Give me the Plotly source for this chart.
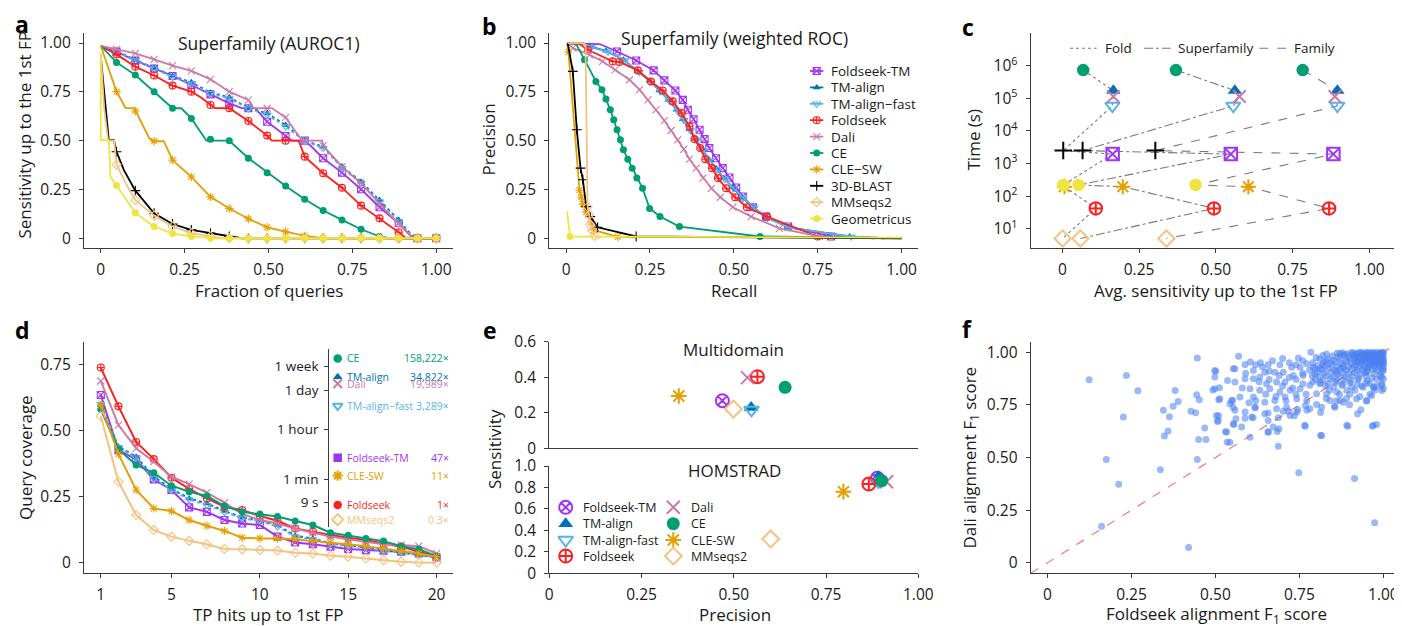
import math
import plotly.graph_objects as go

# The page body adds an 8 px margin: the figure is sized to fill the rest of the 1402x626 window,
# and every layout constant below is written in window pixels.
PAGE_OFF = 8
WIN_W, WIN_H = 1402, 626
W, H = WIN_W - PAGE_OFF, WIN_H - PAGE_OFF
FONT = "Open Sans, Arial, sans-serif"
TXT = "#1a1a1a"
AXC = "#3a3a3a"

# ---------------- methods & styles ----------------
methods = ["Foldseek-TM", "TM-align", "TM-align-fast", "Foldseek", "Dali", "CE",
           "CLE-SW", "3D-BLAST", "MMseqs2", "Geometricus"]
COL = {"Foldseek-TM": "#9f35f2", "TM-align": "#0072B2", "TM-align-fast": "#56B4E9",
       "Foldseek": "#ff1f1f", "Dali": "#CC79A7", "CE": "#009E73", "CLE-SW": "#E69F00",
       "3D-BLAST": "#000000", "MMseqs2": "#F5C27F", "Geometricus": "#F0E442"}
SYM = {"Foldseek-TM": "square-x-open", "TM-align": "triangle-up", "TM-align-fast": "triangle-down-open",
       "Foldseek": "circle-cross-open", "Dali": "x-thin-open", "CE": "circle", "CLE-SW": "asterisk-open",
       "3D-BLAST": "cross-thin-open", "MMseqs2": "diamond-open", "Geometricus": "circle"}
B_LABEL = {"TM-align-fast": "TM-align−fast", "CLE-SW": "CLE−SW"}
D_LABEL = {"TM-align-fast": "TM-align−fast"}

# ---------------- panel a: sensitivity up to 1st FP (AUROC1) ----------------
a_mark_x = [0.047, 0.103, 0.159, 0.214, 0.27, 0.327, 0.383, 0.44, 0.496, 0.551, 0.608,
            0.663, 0.719, 0.776, 0.831, 0.888, 0.944, 1.0]
a_mark_fstm = [0.956, 0.91, 0.87, 0.831, 0.785, 0.737, 0.691, 0.666, 0.597, 0.524, 0.5, 0.41, 0.336, 0.251, 0.159, 0.077, 0, 0]
a_mark_tmalign = [0.961, 0.913, 0.874, 0.831, 0.799, 0.746, 0.722, 0.666, 0.64, 0.58, 0.5, 0.469, 0.367, 0.29, 0.196, 0.094, 0, 0]
a_mark_tmfast = [0.958, 0.910, 0.870, 0.826, 0.792, 0.742, 0.716, 0.664, 0.632, 0.572, 0.497, 0.462, 0.36, 0.282, 0.188, 0.086, 0, 0]
a_mark_foldseek = [0.942, 0.879, 0.834, 0.782, 0.751, 0.683, 0.666, 0.601, 0.526, 0.5, 0.418, 0.333, 0.259, 0.167, 0.102, 0.031, 0, 0]
a_mark_dali = [0.968, 0.947, 0.916, 0.884, 0.857, 0.814, 0.751, 0.708, 0.666, 0.619, 0.503, 0.474, 0.367, 0.282, 0.176, 0.077, 0, 0]
a_mark_ce = [0.901, 0.836, 0.751, 0.666, 0.614, 0.507, 0.5, 0.41, 0.336, 0.268, 0.2, 0.142, 0.094, 0.046, 0.009, 0, 0, 0]
a_mark_clesw = [0.751, 0.652, 0.497, 0.40, 0.314, 0.212, 0.152, 0.10, 0.056, 0.034, 0.012, 0, 0, 0, 0, 0, 0, 0]
a_mark_3dblast = [0.443, 0.244, 0.128, 0.073, 0.043, 0.026, 0.009, 0, 0, 0, 0, 0, 0, 0, 0, 0, 0, 0]
a_mark_mmseqs = [0.378, 0.196, 0.116, 0.06, 0.026, 0.009, 0, 0, 0, 0, 0, 0, 0, 0, 0, 0, 0, 0]
a_mark_geom = [0.27, 0.13, 0.06, 0.024, 0.009, 0, 0, 0, 0, 0, 0, 0, 0, 0, 0, 0, 0, 0]

a_line_x_fstm = [0, 0.047, 0.103, 0.159, 0.214, 0.27, 0.327, 0.383, 0.42, 0.46, 0.496, 0.551, 0.57, 0.61, 0.663, 0.719, 0.776, 0.831, 0.888, 0.93, 1.0]
a_line_y_fstm = [0.985, 0.956, 0.91, 0.87, 0.831, 0.785, 0.737, 0.691, 0.667, 0.667, 0.597, 0.524, 0.5, 0.5, 0.41, 0.336, 0.251, 0.159, 0.077, 0, 0]
a_line_x_tm = [0, 0.047, 0.103, 0.159, 0.214, 0.27, 0.327, 0.383, 0.44, 0.496, 0.551, 0.608, 0.663, 0.719, 0.776, 0.831, 0.888, 0.935, 1.0]
a_line_y_tmalign = [0.985, 0.961, 0.913, 0.874, 0.831, 0.799, 0.746, 0.722, 0.666, 0.64, 0.58, 0.5, 0.469, 0.367, 0.29, 0.196, 0.094, 0, 0]
a_line_y_tmfast = [0.985, 0.958, 0.910, 0.870, 0.826, 0.792, 0.742, 0.716, 0.664, 0.632, 0.572, 0.497, 0.462, 0.36, 0.282, 0.188, 0.086, 0, 0]
a_line_x_foldseek = [0, 0.047, 0.103, 0.159, 0.214, 0.27, 0.30, 0.327, 0.34, 0.383, 0.44, 0.496, 0.51, 0.59, 0.608, 0.663, 0.719, 0.776, 0.831, 0.888, 0.91, 1.0]
a_line_y_foldseek = [0.985, 0.942, 0.879, 0.834, 0.782, 0.751, 0.72, 0.683, 0.667, 0.666, 0.601, 0.526, 0.5, 0.5, 0.418, 0.333, 0.259, 0.167, 0.102, 0.031, 0, 0]
a_line_x_dali = [0, 0.047, 0.103, 0.159, 0.214, 0.27, 0.327, 0.383, 0.44, 0.455, 0.51, 0.551, 0.60, 0.66, 0.663, 0.719, 0.776, 0.831, 0.888, 0.93, 1.0]
a_line_y_dali = [0.985, 0.968, 0.947, 0.916, 0.884, 0.857, 0.814, 0.751, 0.708, 0.667, 0.667, 0.619, 0.5, 0.5, 0.474, 0.367, 0.282, 0.176, 0.077, 0, 0]
a_line_x_ce = [0, 0.047, 0.103, 0.159, 0.214, 0.24, 0.27, 0.315, 0.383, 0.44, 0.496, 0.551, 0.608, 0.663, 0.719, 0.776, 0.831, 0.86, 1.0]
a_line_y_ce = [0.985, 0.901, 0.836, 0.751, 0.666, 0.666, 0.614, 0.5, 0.5, 0.41, 0.336, 0.268, 0.2, 0.142, 0.094, 0.046, 0.009, 0, 0]
a_line_x_clesw = [0, 0.047, 0.074, 0.099, 0.104, 0.145, 0.158, 0.188, 0.214, 0.27, 0.327, 0.383, 0.44, 0.496, 0.551, 0.608, 0.663, 1.0]
a_line_y_clesw = [0.985, 0.751, 0.667, 0.667, 0.652, 0.511, 0.497, 0.497, 0.40, 0.314, 0.212, 0.152, 0.10, 0.056, 0.034, 0.012, 0, 0]
a_line_x_3dblast = [0.001, 0.014, 0.024, 0.039, 0.047, 0.069, 0.103, 0.159, 0.214, 0.27, 0.327, 0.383, 0.42, 1.0]
a_line_y_3dblast = [0.913, 0.665, 0.503, 0.503, 0.443, 0.349, 0.244, 0.128, 0.073, 0.043, 0.026, 0.009, 0, 0]
a_line_x_mmseqs = [0, 0.01, 0.022, 0.04, 0.047, 0.075, 0.103, 0.159, 0.214, 0.27, 0.327, 0.36, 1.0]
a_line_y_mmseqs = [0.95, 0.667, 0.5, 0.5, 0.378, 0.28, 0.196, 0.116, 0.06, 0.026, 0.009, 0, 0]
a_line_x_geom = [0, 0.0, 0.024, 0.029, 0.047, 0.103, 0.159, 0.214, 0.27, 0.33, 1.0]
a_line_y_geom = [0.93, 0.503, 0.503, 0.314, 0.27, 0.13, 0.06, 0.024, 0.009, 0, 0]

# ---------------- panel b: precision / recall (weighted ROC) ----------------
b_x_fstm = [0.005, 0.10, 0.152, 0.209, 0.261, 0.293, 0.326, 0.348, 0.363, 0.380, 0.398, 0.413, 0.427, 0.447, 0.467, 0.487, 0.507, 0.527, 0.557, 0.596, 0.662, 0.790, 0.92]
b_y_fstm = [1.0, 0.995, 0.957, 0.911, 0.860, 0.809, 0.757, 0.709, 0.658, 0.610, 0.556, 0.508, 0.462, 0.410, 0.359, 0.311, 0.260, 0.214, 0.159, 0.111, 0.060, 0.009, 0.0]
b_x_tmalign = [0.005, 0.05, 0.07, 0.119, 0.171, 0.214, 0.249, 0.278, 0.305, 0.330, 0.348, 0.368, 0.386, 0.405, 0.425, 0.447, 0.470, 0.497, 0.525, 0.557, 0.596, 0.663, 0.845, 0.95]
b_y_tmalign = [1.0, 0.998, 0.983, 0.96, 0.915, 0.855, 0.807, 0.757, 0.709, 0.658, 0.610, 0.559, 0.508, 0.458, 0.405, 0.359, 0.308, 0.260, 0.210, 0.159, 0.108, 0.056, 0.009, 0.0]
b_x_tmfast = [0.005, 0.05, 0.075, 0.125, 0.175, 0.218, 0.252, 0.281, 0.308, 0.333, 0.351, 0.371, 0.389, 0.408, 0.428, 0.45, 0.473, 0.50, 0.528, 0.56, 0.60, 0.665, 0.85, 0.95]
b_y_tmfast = [1.0, 0.998, 0.978, 0.955, 0.91, 0.851, 0.803, 0.752, 0.705, 0.652, 0.605, 0.552, 0.503, 0.452, 0.401, 0.352, 0.303, 0.255, 0.206, 0.155, 0.104, 0.054, 0.008, 0.0]
b_x_foldseek = [0.005, 0.04, 0.065, 0.139, 0.159, 0.214, 0.253, 0.288, 0.318, 0.345, 0.368, 0.383, 0.400, 0.415, 0.435, 0.453, 0.477, 0.504, 0.539, 0.599, 0.750, 0.80]
b_y_foldseek = [1.0, 0.995, 0.966, 0.906, 0.903, 0.860, 0.803, 0.757, 0.701, 0.641, 0.573, 0.508, 0.462, 0.405, 0.359, 0.308, 0.256, 0.210, 0.159, 0.111, 0.009, 0.0]
b_x_dali = [0.005, 0.02, 0.07, 0.109, 0.146, 0.189, 0.219, 0.244, 0.268, 0.293, 0.313, 0.333, 0.351, 0.368, 0.388, 0.408, 0.433, 0.460, 0.497, 0.552, 0.636, 0.755, 0.80]
b_y_dali = [1.0, 0.974, 0.94, 0.906, 0.863, 0.812, 0.761, 0.709, 0.658, 0.603, 0.552, 0.504, 0.456, 0.405, 0.359, 0.308, 0.256, 0.210, 0.159, 0.111, 0.051, 0.009, 0.0]
b_x_ce = [0.005, 0.03, 0.055, 0.089, 0.107, 0.119, 0.132, 0.142, 0.152, 0.162, 0.171, 0.184, 0.197, 0.211, 0.228, 0.249, 0.280, 0.338, 0.578, 1.0]
b_y_ce = [1.0, 0.995, 0.915, 0.803, 0.761, 0.713, 0.658, 0.607, 0.556, 0.504, 0.453, 0.405, 0.359, 0.308, 0.256, 0.153, 0.111, 0.060, 0.009, 0.0]
b_x_clesw = [0.003, 0.007, 0.040, 0.045, 0.050, 0.060, 0.075, 0.084, 0.154, 0.21]
b_y_clesw = [1.0, 0.954, 0.246, 0.21, 0.175, 0.135, 0.084, 0.041, 0.007, 0.003]
b_x_3dblast = [0.005, 0.02, 0.032, 0.043, 0.05, 0.06, 0.072, 0.094, 0.209, 1.0]
b_y_3dblast = [1.0, 0.855, 0.556, 0.359, 0.30, 0.162, 0.111, 0.056, 0.009, 0.0]
b_x_mmseqs = [0.005, 0.05, 0.058, 0.064, 0.069, 0.072, 0.078, 0.085, 0.10]
b_y_mmseqs = [1.0, 1.0, 0.99, 0.16, 0.12, 0.07, 0.04, 0.012, 0.0]
b_x_geom = [0.003, 0.012, 1.0]
b_y_geom = [0.137, 0.009, 0.003]

# ---------------- panel c: time vs sensitivity ----------------
c_methods = ["CE", "TM-align", "Dali", "TM-align-fast", "3D-BLAST", "Foldseek-TM",
             "Geometricus", "CLE-SW", "Foldseek", "MMseqs2"]
c_time_s = [7.4e5, 1.74e5, 1.15e5, 5.9e4, 2.5e3, 1.95e3, 220, 195, 42, 5]
c_fold = [0.068, 0.166, 0.166, 0.163, 0.003, 0.164, 0.003, 0.007, 0.109, 0.001]
c_superfamily = [0.370, 0.562, 0.577, 0.557, 0.066, 0.549, 0.053, 0.197, 0.494, 0.059]
c_family = [0.783, 0.896, 0.888, 0.896, 0.303, 0.883, 0.434, 0.606, 0.869, 0.339]
c_levels = ["Fold", "Superfamily", "Family"]

# ---------------- panel d: query coverage vs TP hits ----------------
d_hits = list(range(1, 21))
d_fstm = [0.636, 0.427, 0.392, 0.316, 0.276, 0.210, 0.193, 0.162, 0.149, 0.143, 0.099, 0.077, 0.070, 0.061, 0.052, 0.048, 0.046, 0.042, 0.035, 0.020]
d_tmalign = [0.598, 0.440, 0.402, 0.326, 0.280, 0.244, 0.225, 0.196, 0.172, 0.159, 0.143, 0.102, 0.092, 0.073, 0.067, 0.058, 0.048, 0.039, 0.029, 0.020]
d_tmfast = [0.602, 0.438, 0.398, 0.320, 0.276, 0.240, 0.219, 0.192, 0.168, 0.159, 0.137, 0.099, 0.089, 0.071, 0.063, 0.058, 0.046, 0.038, 0.029, 0.020]
d_foldseek = [0.740, 0.593, 0.458, 0.393, 0.322, 0.280, 0.244, 0.212, 0.200, 0.177, 0.159, 0.130, 0.118, 0.105, 0.095, 0.086, 0.073, 0.061, 0.042, 0.023]
d_dali = [0.689, 0.522, 0.434, 0.383, 0.326, 0.298, 0.266, 0.228, 0.185, 0.162, 0.149, 0.130, 0.114, 0.099, 0.089, 0.080, 0.070, 0.067, 0.063, 0.035]
d_ce = [0.582, 0.430, 0.371, 0.341, 0.292, 0.269, 0.253, 0.215, 0.193, 0.185, 0.175, 0.158, 0.143, 0.114, 0.104, 0.092, 0.082, 0.063, 0.051, 0.025]
d_clesw = [0.598, 0.412, 0.276, 0.206, 0.196, 0.162, 0.140, 0.121, 0.095, 0.092, 0.092, 0.089, 0.082, 0.077, 0.070, 0.063, 0.054, 0.046, 0.035, 0.023]
d_mmseqs = [0.556, 0.307, 0.181, 0.124, 0.099, 0.083, 0.070, 0.052, 0.051, 0.048, 0.046, 0.038, 0.035, 0.027, 0.023, 0.016, 0.010, 0.004, 0.001, 0.0]

# inset: run-time relative to Foldseek
d_speed_methods = ["CE", "TM-align", "Dali", "TM-align-fast", "Foldseek-TM", "CLE-SW", "Foldseek", "MMseqs2"]
d_speedup = [158222, 34822, 19989, 3289, 47, 11, 1, 0.3]
d_foldseek_seconds = 7.5
d_time_ticks = [9, 60, 3600, 86400, 604800]
d_time_labels = ["9 s", "1 min", "1 hour", "1 day", "1 week"]

# ---------------- panel e: multidomain / HOMSTRAD ----------------
e_methods = ["Foldseek-TM", "TM-align", "TM-align-fast", "Foldseek", "Dali", "CE", "CLE-SW", "MMseqs2"]
e_multi_precision = [0.469, 0.547, 0.548, 0.564, 0.537, 0.639, 0.351, 0.499]
e_multi_sensitivity = [0.268, 0.229, 0.216, 0.403, 0.398, 0.343, 0.294, 0.221]
e_hom_precision = [0.889, 0.892, 0.892, 0.866, 0.914, 0.901, 0.797, 0.600]
e_hom_sensitivity = [0.886, 0.900, 0.854, 0.832, 0.854, 0.863, 0.761, 0.320]

# ---------------- panel f: alignment F1 (Foldseek vs Dali) ----------------
f_sparse = [(0.124, 0.869), (0.235, 0.889), (0.269, 0.817), (0.226, 0.692), (0.175, 0.490), (0.212, 0.373),
            (0.161, 0.174), (0.420, 0.073), (0.336, 0.442), (0.446, 0.491), (0.446, 0.972), (0.345, 0.724),
            (0.363, 0.694), (0.348, 0.602), (0.359, 0.626), (0.374, 0.744), (0.380, 0.818), (0.389, 0.766),
            (0.427, 0.720), (0.441, 0.712), (0.444, 0.798), (0.452, 0.774), (0.450, 0.586), (0.472, 0.585),
            (0.468, 0.640), (0.748, 0.428), (0.914, 0.400), (0.974, 0.190), (0.687, 0.553), (0.813, 0.605),
            (0.894, 0.649), (0.967, 0.648), (0.980, 0.657), (0.767, 0.649), (0.603, 0.596), (0.535, 0.573),
            (0.530, 0.622), (0.555, 0.657), (0.578, 0.645), (0.506, 0.671), (0.509, 0.698), (0.492, 0.821),
            (0.498, 0.882), (0.501, 0.910), (0.510, 0.774), (0.512, 0.831), (0.536, 0.866), (0.543, 0.755),
            (0.551, 0.771), (0.558, 0.921), (0.569, 0.981), (0.588, 0.942), (0.604, 0.953), (0.588, 0.716),
            (0.561, 0.684), (0.558, 0.724), (0.588, 0.687), (0.612, 0.689), (0.618, 0.736), (0.657, 0.711),
            (0.657, 0.621), (0.684, 0.624), (0.672, 0.645), (0.689, 0.637), (0.687, 0.689), (0.702, 0.720),
            (0.717, 0.720), (0.735, 0.698), (0.745, 0.728), (0.768, 0.747), (0.772, 0.724), (0.801, 0.752),
            (0.813, 0.714), (0.841, 0.771), (0.854, 0.744), (0.871, 0.771), (0.899, 0.750), (0.923, 0.708),
            (0.933, 0.727), (0.950, 0.768), (0.965, 0.793), (0.995, 0.818), (1.0, 0.874), (1.0, 0.913), (1.0, 0.945)]
f_cloud = [(0.634, 0.950), (0.657, 0.940), (0.692, 0.940), (0.747, 0.972), (0.784, 1.0), (0.772, 0.945),
           (0.752, 0.929), (0.727, 0.929), (0.702, 0.905), (0.677, 0.905), (0.647, 0.905), (0.613, 0.913),
           (0.588, 0.874), (0.558, 0.858), (0.613, 0.874), (0.632, 0.882), (0.652, 0.850), (0.682, 0.858),
           (0.707, 0.858), (0.732, 0.890), (0.761, 0.890), (0.796, 0.898), (0.811, 0.921), (0.791, 0.929),
           (0.811, 0.969), (0.831, 0.992), (0.603, 0.827), (0.632, 0.819), (0.662, 0.827), (0.692, 0.811),
           (0.722, 0.819), (0.752, 0.827), (0.781, 0.843), (0.811, 0.850), (0.573, 0.787), (0.613, 0.787),
           (0.647, 0.763), (0.677, 0.771), (0.707, 0.787), (0.742, 0.779), (0.772, 0.771), (0.801, 0.803),
           (0.831, 0.803), (0.861, 0.811), (0.891, 0.819), (0.915, 0.819), (0.940, 0.834), (0.995, 0.882),
           (0.995, 0.843), (1.0, 0.827), (0.975, 0.819), (0.950, 0.771), (0.920, 0.779), (0.881, 0.763),
           (0.856, 0.739), (0.816, 0.739), (0.781, 0.732), (0.742, 0.716), (0.712, 0.739), (0.682, 0.732),
           (0.647, 0.708), (0.618, 0.739), (0.553, 0.739), (0.548, 0.771), (0.513, 0.779), (0.498, 0.827),
           (0.498, 0.913), (0.553, 0.921), (0.766, 0.653), (0.816, 0.605), (0.891, 0.653), (0.970, 0.653),
           (0.722, 0.700), (0.657, 0.676), (0.608, 0.692), (0.503, 0.700), (0.508, 0.676), (0.553, 0.660),
           (0.533, 0.621), (0.543, 0.573), (0.657, 0.621), (0.64, 0.93), (0.67, 0.96), (0.70, 0.97),
           (0.72, 0.95), (0.74, 0.94), (0.76, 0.96), (0.79, 0.95), (0.80, 0.975), (0.82, 0.985), (0.83, 0.96),
           (0.82, 0.94), (0.78, 0.915), (0.76, 0.90), (0.74, 0.87), (0.72, 0.88), (0.69, 0.89), (0.66, 0.87),
           (0.63, 0.86), (0.70, 0.84), (0.73, 0.83), (0.76, 0.85), (0.79, 0.86), (0.77, 0.80), (0.74, 0.80),
           (0.71, 0.77), (0.68, 0.79), (0.65, 0.80), (0.62, 0.77), (0.60, 0.76), (0.84, 0.82), (0.87, 0.80),
           (0.90, 0.80), (0.93, 0.79), (0.96, 0.80), (0.98, 0.84), (0.96, 0.85), (0.97, 0.83), (0.83, 0.78),
           (0.86, 0.77), (0.89, 0.78), (0.59, 0.90), (0.62, 0.94), (0.66, 0.91), (0.58, 0.83)]
f_dense = [(0.862, 0.995), (0.878, 0.998), (0.893, 0.992), (0.905, 0.999), (0.918, 0.994), (0.929, 1.0),
           (0.938, 0.993), (0.947, 0.998), (0.956, 0.992), (0.963, 0.999), (0.971, 0.994), (0.978, 1.0),
           (0.985, 0.995), (0.992, 0.999), (0.998, 0.993), (1.0, 1.0), (0.968, 0.997), (0.988, 0.991),
           (0.952, 1.0), (0.935, 0.997), (0.922, 0.991), (0.884, 0.99),
           (0.848, 0.982), (0.866, 0.979), (0.882, 0.984), (0.897, 0.977), (0.91, 0.985), (0.921, 0.978),
           (0.932, 0.983), (0.944, 0.977), (0.953, 0.985), (0.961, 0.98), (0.969, 0.986), (0.976, 0.977),
           (0.983, 0.984), (0.99, 0.979), (0.996, 0.986), (1.0, 0.978), (0.94, 0.988), (0.958, 0.975),
           (0.973, 0.981), (0.987, 0.975),
           (0.835, 0.967), (0.852, 0.962), (0.871, 0.968), (0.888, 0.961), (0.901, 0.969), (0.914, 0.963),
           (0.926, 0.967), (0.937, 0.96), (0.949, 0.968), (0.959, 0.963), (0.966, 0.969), (0.975, 0.962),
           (0.982, 0.967), (0.991, 0.961), (0.999, 0.966), (0.944, 0.972), (0.97, 0.958), (0.985, 0.971),
           (0.822, 0.952), (0.841, 0.948), (0.857, 0.954), (0.874, 0.947), (0.891, 0.953), (0.906, 0.946),
           (0.92, 0.952), (0.933, 0.945), (0.946, 0.951), (0.957, 0.944), (0.968, 0.95), (0.979, 0.946),
           (0.993, 0.953), (1.0, 0.948), (0.962, 0.955), (0.985, 0.941),
           (0.806, 0.937), (0.827, 0.933), (0.846, 0.938), (0.863, 0.931), (0.88, 0.937), (0.896, 0.93),
           (0.912, 0.936), (0.928, 0.929), (0.942, 0.935), (0.955, 0.93), (0.971, 0.937), (0.988, 0.932),
           (1.0, 0.929), (0.918, 0.94), (0.95, 0.925),
           (0.795, 0.922), (0.816, 0.918), (0.836, 0.923), (0.855, 0.915), (0.872, 0.921), (0.889, 0.914),
           (0.905, 0.92), (0.922, 0.913), (0.938, 0.918), (0.953, 0.912), (0.968, 0.919), (0.983, 0.913),
           (0.998, 0.92), (0.88, 0.926), (0.945, 0.905),
           (0.803, 0.905), (0.824, 0.9), (0.845, 0.906), (0.862, 0.898), (0.879, 0.904), (0.897, 0.897),
           (0.915, 0.903), (0.932, 0.896), (0.951, 0.902), (0.973, 0.898), (0.993, 0.905), (0.86, 0.91),
           (0.788, 0.888), (0.81, 0.884), (0.83, 0.89), (0.85, 0.882), (0.869, 0.888), (0.888, 0.881),
           (0.908, 0.887), (0.926, 0.879), (0.947, 0.886), (0.966, 0.879), (0.99, 0.887),
           (0.798, 0.872), (0.82, 0.868), (0.842, 0.874), (0.861, 0.866), (0.882, 0.871), (0.903, 0.864),
           (0.925, 0.87), (0.952, 0.865), (0.98, 0.872),
           (0.812, 0.856), (0.836, 0.851), (0.858, 0.857), (0.879, 0.849), (0.9, 0.855), (0.922, 0.848),
           (0.948, 0.854), (0.995, 0.852),
           (0.828, 0.84), (0.852, 0.836), (0.876, 0.842), (0.906, 0.834), (0.935, 0.84), (0.972, 0.836),
           (0.87, 0.993), (0.91, 0.996), (0.945, 0.99), (0.975, 0.99), (0.996, 0.998), (0.93, 0.975),
           (0.955, 0.97), (0.98, 0.96), (0.995, 0.975), (0.965, 0.985), (0.99, 0.99), (0.96, 0.94),
           (0.975, 0.925), (0.99, 0.945), (1.0, 0.96), (0.94, 0.96), (0.925, 0.955), (0.915, 0.975)]

# ======================================================================
A_LINES = {"Foldseek-TM": (a_line_x_fstm, a_line_y_fstm), "TM-align": (a_line_x_tm, a_line_y_tmalign),
           "TM-align-fast": (a_line_x_tm, a_line_y_tmfast), "Foldseek": (a_line_x_foldseek, a_line_y_foldseek),
           "Dali": (a_line_x_dali, a_line_y_dali), "CE": (a_line_x_ce, a_line_y_ce),
           "CLE-SW": (a_line_x_clesw, a_line_y_clesw), "3D-BLAST": (a_line_x_3dblast, a_line_y_3dblast),
           "MMseqs2": (a_line_x_mmseqs, a_line_y_mmseqs), "Geometricus": (a_line_x_geom, a_line_y_geom)}
A_MARKS = {"Foldseek-TM": a_mark_fstm, "TM-align": a_mark_tmalign, "TM-align-fast": a_mark_tmfast,
           "Foldseek": a_mark_foldseek, "Dali": a_mark_dali, "CE": a_mark_ce, "CLE-SW": a_mark_clesw,
           "3D-BLAST": a_mark_3dblast, "MMseqs2": a_mark_mmseqs, "Geometricus": a_mark_geom}
B_CURVES = {"Foldseek-TM": (b_x_fstm, b_y_fstm), "TM-align": (b_x_tmalign, b_y_tmalign),
            "TM-align-fast": (b_x_tmfast, b_y_tmfast), "Foldseek": (b_x_foldseek, b_y_foldseek),
            "Dali": (b_x_dali, b_y_dali), "CE": (b_x_ce, b_y_ce), "CLE-SW": (b_x_clesw, b_y_clesw),
            "3D-BLAST": (b_x_3dblast, b_y_3dblast), "MMseqs2": (b_x_mmseqs, b_y_mmseqs),
            "Geometricus": (b_x_geom, b_y_geom)}
D_CURVES = {"Foldseek-TM": d_fstm, "TM-align": d_tmalign, "TM-align-fast": d_tmfast, "Foldseek": d_foldseek,
            "Dali": d_dali, "CE": d_ce, "CLE-SW": d_clesw, "MMseqs2": d_mmseqs}
DASH = {"TM-align": "dot", "TM-align-fast": "dot"}


def mk(m, size, sym=None, lw=1.3):
    s = sym or SYM[m]
    filled = not s.endswith("-open")
    return dict(symbol=s, size=size, color=COL[m], line=dict(color=COL[m], width=0 if filled else lw))


fig = go.Figure()


def add(tr, ax):
    tr.update(xaxis="x" + ax, yaxis="y" + ax, showlegend=False, hoverinfo="skip")
    fig.add_trace(tr)


# ---- a
for m in methods:
    lx, ly = A_LINES[m]
    add(go.Scatter(x=lx, y=ly, mode="lines", line=dict(color=COL[m], width=1.8, dash=DASH.get(m, "solid"))), "")
    add(go.Scatter(x=a_mark_x, y=A_MARKS[m], mode="markers", marker=mk(m, 7, lw=1.1)), "")

# ---- b
for m in methods:
    bx, by = B_CURVES[m]
    add(go.Scatter(x=bx, y=by, mode="lines", line=dict(color=COL[m], width=1.8)), "2")
    mx = [bx[i] for i in range(1, len(bx) - 1) if by[i] <= 0.985]
    my = [by[i] for i in range(1, len(bx) - 1) if by[i] <= 0.985]
    add(go.Scatter(x=mx, y=my, mode="markers", marker=mk(m, 7, lw=1.1)), "2")

# ---- c
C_DASH = {"Fold": "dot", "Superfamily": "dashdot", "Family": "dash"}
for lev, xs in zip(c_levels, [c_fold, c_superfamily, c_family]):
    add(go.Scatter(x=xs, y=c_time_s, mode="lines", line=dict(color="#7a7a7a", width=1.1, dash=C_DASH[lev])), "3")
for m in methods:
    i = c_methods.index(m)
    add(go.Scatter(x=[c_fold[i], c_superfamily[i], c_family[i]], y=[c_time_s[i]] * 3, mode="markers",
                   marker=mk(m, 12.5, lw=2)), "3")

# ---- d
for m in methods:
    if m not in D_CURVES:
        continue
    add(go.Scatter(x=d_hits, y=D_CURVES[m], mode="lines+markers",
                   line=dict(color=COL[m], width=2, dash=DASH.get(m, "solid")), marker=mk(m, 7, lw=1.1)), "4")

# ---- d inset (time axis)
INSET_L, INSET_R = 329.3, 455.0
def inset_x(px):
    return (px - INSET_L) / (INSET_R - INSET_L)
D_SYM = {"Foldseek-TM": "square", "Foldseek": "circle"}
annotations = []
for m, s in zip(d_speed_methods, d_speedup):
    t = d_foldseek_seconds * s
    add(go.Scatter(x=[inset_x(337.7)], y=[t], mode="markers", marker=mk(m, 8.5, sym=D_SYM.get(m), lw=2)), "5")
    annotations.append(dict(text=D_LABEL.get(m, m), x=inset_x(344.5), y=math.log10(t), xref="x5", yref="y5",
                            showarrow=False, xanchor="left", yanchor="middle",
                            font=dict(family=FONT, size=10.5, color=COL[m])))
    annotations.append(dict(text=f"{s:,}×", x=inset_x(451), y=math.log10(t), xref="x5", yref="y5",
                            showarrow=False, xanchor="right", yanchor="middle",
                            font=dict(family=FONT, size=10.5, color=COL[m])))

# ---- e
E_SYM = {"Foldseek-TM": "circle-x-open"}
for i, m in enumerate(e_methods):
    add(go.Scatter(x=[e_multi_precision[i]], y=[e_multi_sensitivity[i]], mode="markers",
                   marker=mk(m, 13, sym=E_SYM.get(m), lw=2)), "6")
    add(go.Scatter(x=[e_hom_precision[i]], y=[e_hom_sensitivity[i]], mode="markers",
                   marker=mk(m, 13, sym=E_SYM.get(m), lw=2)), "7")

# ---- f
f_all = f_sparse + f_cloud + f_dense
add(go.Scatter(x=[p[0] for p in f_all], y=[p[1] for p in f_all], mode="markers",
               marker=dict(size=7, color="rgba(74,128,240,0.55)", line=dict(width=0))), "8")

# ---- manual legends on a pixel overlay axis (x9/y9, window pixels)
for k, m in enumerate(methods):
    yc = 71 + k * 16.4
    add(go.Scatter(x=[810, 823.3], y=[yc, yc], mode="lines", line=dict(color=COL[m], width=1.8)), "9")
    add(go.Scatter(x=[816.7], y=[yc], mode="markers", marker=mk(m, 7, lw=1.1)), "9")
    annotations.append(dict(text=B_LABEL.get(m, m), x=829, y=yc, xref="x9", yref="y9", showarrow=False,
                            xanchor="left", yanchor="middle", font=dict(family=FONT, size=13.5, color=TXT)))
for lev, x0, x1, xt in zip(c_levels, [1070, 1144, 1259.3], [1096.7, 1170.7, 1286], [1102.7, 1175.7, 1291.7]):
    add(go.Scatter(x=[x0, x1], y=[48.3, 48.3], mode="lines",
                   line=dict(color="#7a7a7a", width=1.1, dash=C_DASH[lev])), "9")
    annotations.append(dict(text=lev, x=xt, y=48.3, xref="x9", yref="y9", showarrow=False, xanchor="left",
                            yanchor="middle", font=dict(family=FONT, size=13.5, color=TXT)))
for k, m in enumerate(e_methods):
    col, row = divmod(k, 4)
    xm = [565.7, 673.3][col]
    xt = [581, 689][col]
    yc = [507.3, 523.7, 540, 556][row]
    add(go.Scatter(x=[xm], y=[yc], mode="markers", marker=mk(m, 13, sym=E_SYM.get(m), lw=2)), "9")
    annotations.append(dict(text=m, x=xt, y=yc, xref="x9", yref="y9", showarrow=False, xanchor="left",
                            yanchor="middle", font=dict(family=FONT, size=12.5, color=TXT)))

# ---- text: panel letters, titles, axis titles
def txt(text, x, y, size, angle=0, bold=False):
    annotations.append(dict(text=f"<b>{text}</b>" if bold else text, x=x, y=y, xref="x9", yref="y9",
                            showarrow=False, xanchor="center", yanchor="middle", textangle=angle,
                            font=dict(family=FONT, size=size, color="#000" if bold else TXT)))

for L, x, y in [("a", 21.5, 23.5), ("b", 489.5, 25.5), ("c", 968, 26.7), ("d", 22.5, 329.7),
                ("e", 490, 329.7), ("f", 966.7, 328.5)]:
    txt(L, x, y, 23, bold=True)
AT = 17
txt("Superfamily (AUROC1)", 268.5, 42.7, 17.5)
txt("Superfamily (weighted ROC)", 734, 38.3, 17.5)
txt("Multidomain", 733.8, 349, 17)
txt("HOMSTRAD", 734, 470, 17)
txt("Sensitivity up to the 1st FP", 23.5, 135, AT, angle=-90)
txt("Precision", 487.5, 140, AT, angle=-90)
txt("Time (s)", 972.5, 140, AT, angle=-90)
txt("Query coverage", 25.5, 457.5, AT, angle=-90)
txt("Sensitivity", 494, 449, AT, angle=-90)
txt("Dali alignment F<sub>1</sub> score", 970, 457.5, AT, angle=-90)
txt("Fraction of queries", 268.7, 290, AT)
txt("Recall", 734, 290, AT)
txt("Avg. sensitivity up to the 1st FP", 1215.7, 290, AT)
txt("TP hits up to 1st FP", 268.7, 614, AT)
txt("Precision", 735, 614, AT)
txt("Foldseek alignment F<sub>1</sub> score", 1216, 614, AT)

# ---- axes (domains given in window pixels)
def dx(p0, p1):
    return [(p0 - PAGE_OFF) / W, min(1.0, (p1 - PAGE_OFF) / W)]

def dy(top, bot):
    return [1 - (bot - PAGE_OFF) / H, 1 - (top - PAGE_OFF) / H]

base = dict(showline=True, linecolor=AXC, linewidth=1.2, ticks="outside", ticklen=4, tickwidth=1.1,
            tickcolor=AXC, showgrid=False, zeroline=False, tickfont=dict(family=FONT, size=15.5, color=TXT),
            fixedrange=True, automargin=False)
q_vals = [0, 0.25, 0.5, 0.75, 1.0]
q_text = ["0", "0.25", "0.50", "0.75", "1.00"]

def ax(**kw):
    d = dict(base)
    d.update(kw)
    return d

Y_TOP = dy(33.3, 248)
Y_BOT = dy(341.7, 573.3)
layout_axes = dict(
    xaxis=ax(domain=dx(84, 453), range=[-0.05, 1.05], tickvals=q_vals, ticktext=q_text, anchor="y", ticklabelstandoff=3),
    yaxis=ax(domain=Y_TOP, range=[-0.05, 1.05], tickvals=q_vals, ticktext=q_text, anchor="x", ticklabelstandoff=5),
    xaxis2=ax(domain=dx(549.3, 918.3), range=[-0.05, 1.05], tickvals=q_vals, ticktext=q_text, anchor="y2", ticklabelstandoff=3),
    yaxis2=ax(domain=Y_TOP, range=[-0.05, 1.05], tickvals=q_vals, ticktext=q_text, anchor="x2", ticklabelstandoff=5),
    xaxis3=ax(domain=dx(1030.7, 1400), range=[-0.103, 1.10], tickvals=q_vals, ticktext=q_text, anchor="y3", ticklabelstandoff=3),
    yaxis3=ax(domain=Y_TOP, type="log", range=[0.407, 7.0], tickvals=[1e1, 1e2, 1e3, 1e4, 1e5, 1e6],
              ticktext=[f"10<sup>{k}</sup>" for k in range(1, 7)], anchor="x3", ticklabelstandoff=5),
    xaxis4=ax(domain=dx(84, 453.3), range=[0.05, 20.95], tickvals=[1, 5, 10, 15, 20], anchor="y4", ticklabelstandoff=3),
    yaxis4=ax(domain=Y_BOT, range=[-0.04, 0.838], tickvals=[0, 0.25, 0.5, 0.75], ticktext=["0", "0.25", "0.50", "0.75"],
              anchor="x4", ticklabelstandoff=5),
    xaxis5=dict(domain=dx(INSET_L, INSET_R), range=[0, 1], visible=False, anchor="y5", fixedrange=True),
    yaxis5=ax(domain=dy(349, 526.7), type="log", range=[0.102, 6.41], tickvals=d_time_ticks, ticktext=d_time_labels,
              anchor="x5", tickfont=dict(family=FONT, size=13.5, color=TXT), ticklabelstandoff=3),
    xaxis6=ax(domain=dx(549.3, 918.3), range=[0, 1], showticklabels=False, ticks="", anchor="y6"),
    yaxis6=ax(domain=dy(341.7, 448.3), range=[0, 0.6], tickvals=[0, 0.2, 0.4, 0.6], ticktext=["0", "0.2", "0.4", "0.6"],
              anchor="x6", ticklabelstandoff=5),
    xaxis7=ax(domain=dx(549.3, 918.3), range=[0, 1], tickvals=q_vals, ticktext=q_text, anchor="y7", ticklabelstandoff=3),
    yaxis7=ax(domain=dy(466, 573.3), range=[0, 1.0], tickvals=[0, 0.2, 0.4, 0.6, 0.8, 1.0],
              ticktext=["0", "0.2", "0.4", "0.6", "0.8", "1.0"], anchor="x7", ticklabelstandoff=5),
    xaxis8=ax(domain=dx(1030.7, 1402), range=[-0.05, 1.0554], tickvals=q_vals, ticktext=q_text, anchor="y8", ticklabelstandoff=3),
    yaxis8=ax(domain=Y_BOT, range=[-0.05, 1.05], tickvals=q_vals, ticktext=q_text, anchor="x8", ticklabelstandoff=5),
    xaxis9=dict(domain=[0, 1], range=[PAGE_OFF, WIN_W], visible=False, anchor="y9", fixedrange=True),
    yaxis9=dict(domain=[0, 1], range=[WIN_H, PAGE_OFF], visible=False, anchor="x9", fixedrange=True),
)

fig.update_layout(
    width=W, height=H, autosize=False,
    margin=dict(l=0, r=0, t=0, b=0, pad=0, autoexpand=False),
    paper_bgcolor="white", plot_bgcolor="rgba(0,0,0,0)",
    showlegend=False, font=dict(family=FONT, color=TXT),
    annotations=annotations,
    shapes=[dict(type="line", xref="x8", yref="y8", x0=-0.05, y0=-0.05, x1=1.06, y1=1.06, layer="below",
                 line=dict(color="rgba(235,110,110,0.85)", width=1.3, dash="dash"))],
    **layout_axes,
)

fig.write_html("out.html")
